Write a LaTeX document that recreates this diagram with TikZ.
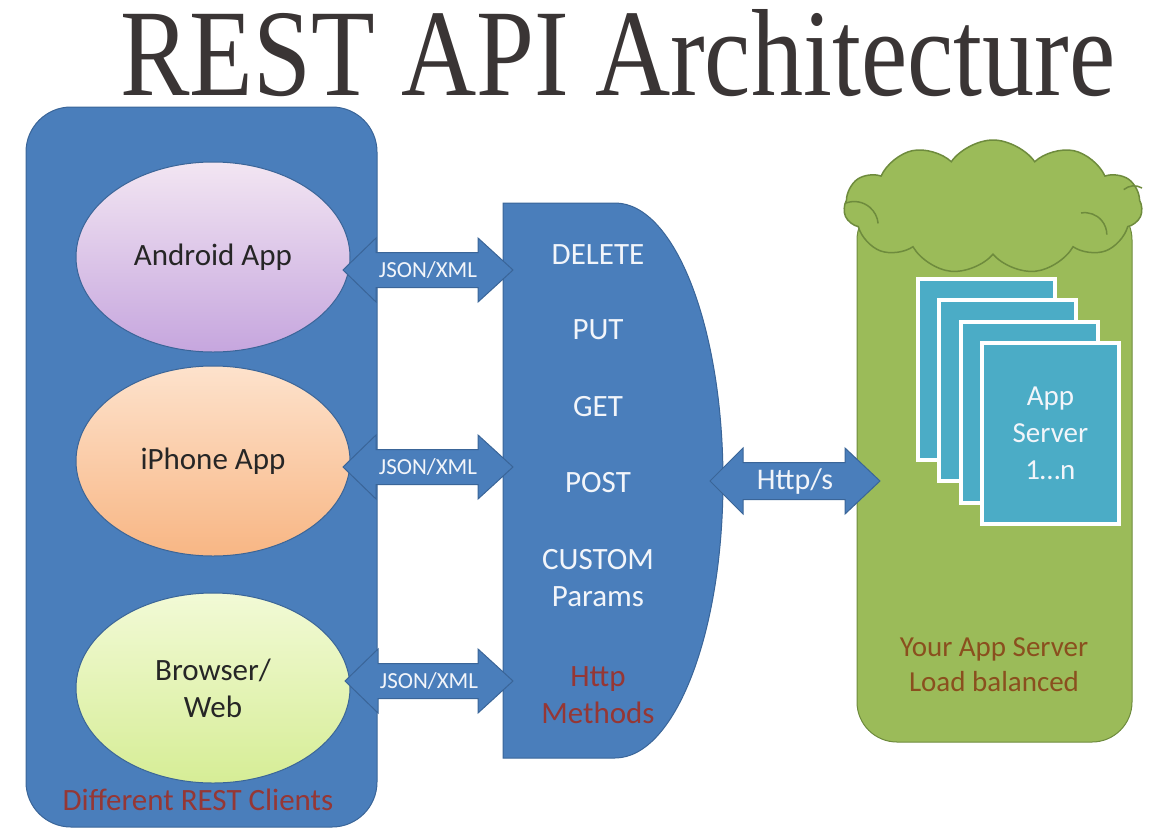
\documentclass[tikz,border=0pt]{standalone}
\usepackage{fontspec}
\setmainfont{Carlito}
\newfontfamily\titlefont{Liberation Serif}
\usetikzlibrary{shapes.geometric,shapes.symbols,calc}
\definecolor{blueA}{HTML}{4A7EBB}
\definecolor{blueB}{HTML}{3A6598}
\definecolor{greenA}{HTML}{9BBB59}
\definecolor{greenB}{HTML}{6E8B3D}
\definecolor{aquaA}{HTML}{4BACC6}
\definecolor{redT}{HTML}{953735}
\definecolor{brownT}{HTML}{8A4F1E}
\definecolor{titleC}{HTML}{3A3535}
\definecolor{txtW}{HTML}{F2F5FA}
\newcommand{\twoway}[5]{%
  \path let \p1=(#1), \p2=(#2) in
    [fill=blueA, draw=blueB, line width=1pt, line join=miter]
    (\x1,\y1) -- (\x1+33,\y1+#4) -- (\x1+33,\y1+#5) -- (\x2-35,\y1+#5) -- (\x2-35,\y1+#4)
    -- (\x2,\y1) -- (\x2-35,\y1-#4) -- (\x2-35,\y1-#5) -- (\x1+33,\y1-#5) -- (\x1+33,\y1-#4) -- cycle;
}
\tikzset{
  client/.style={ellipse, draw=blueB, line width=1pt, minimum width=274pt, minimum height=190pt,
     text=black!85, font=\fontsize{31}{37}\selectfont, align=center},
  mlabel/.style={text=txtW, font=\fontsize{31}{37}\selectfont, align=center},
  rlabel/.style={text=redT, font=\fontsize{31}{37}\selectfont, align=center},
  arrlabel/.style={text=txtW, font=\fontsize{23}{27}\selectfont},
  srv/.style={rectangle, fill=aquaA, draw=white, line width=4pt, minimum width=137pt, minimum height=181pt,
     text=txtW, font=\fontsize{29}{37}\selectfont, align=center},
  cloudline/.style={greenB, line width=1.5pt},
}
\begin{document}
\begin{tikzpicture}[x=1pt,y=-1pt]
\useasboundingbox (0,0) rectangle (1150,830);
% title
\node[anchor=base, text=titleC, inner sep=0pt] (title) at (618,95)
  {\scalebox{0.84}[1]{\titlefont\fontsize{124}{130}\selectfont REST API Architecture}};
% left client container
\draw[fill=blueA, draw=blueB, line width=1pt, rounded corners=45pt] (26,107) rectangle (377,827);
\node[client, top color=white!60!violet!25!white, bottom color={rgb,255:red,198;green,166;blue,222}] (android) at (213,257) {Android App};
\node[client, top color={rgb,255:red,253;green,226;blue,204}, bottom color={rgb,255:red,248;green,182;blue,132}] (iphone) at (213,461) {iPhone App};
\node[client, top color={rgb,255:red,242;green,250;blue,214}, bottom color={rgb,255:red,214;green,237;blue,150}] (browser) at (213,688) {Browser/\\Web};
\node[rlabel] (clients) at (198,800) {Different REST Clients};
% methods D-shape
\draw[fill=blueA, draw=blueB, line width=1pt] (503,203) -- (615,203)
   arc[start angle=-90, end angle=90, x radius=108, y radius=277.5] -- (503,758) -- cycle;
\node[mlabel] (delete) at (598,255) {DELETE};
\node[mlabel] (put) at (598,330) {PUT};
\node[mlabel] (get) at (598,407) {GET};
\node[mlabel] (post) at (598,483) {POST};
\node[mlabel] (custom) at (598,578) {CUSTOM\\Params};
\node[rlabel] (http) at (598,695) {Http\\Methods};
% server container
\draw[fill=greenA, draw=greenB, line width=1pt, rounded corners=40pt] (857,200) rectangle (1132,742);
\node[cloud, cloud puffs=11, cloud puff arc=110, cloud ignores aspect, fill=greenA, draw=greenB, line width=1.5pt,
      minimum width=298pt, minimum height=134pt, inner sep=0pt] (cloud) at (993,207) {};
\draw[cloudline] (846,203) arc[start angle=250, end angle=355, radius=24];
\draw[cloudline] (1081,213) arc[start angle=260, end angle=360, radius=22];
\draw[cloudline] (1142,188) arc[start angle=300, end angle=230, radius=16];
\node[srv] (s1) at (986.5,369.5) {};
\node[srv] (s2) at (1007.8,390.8) {};
\node[srv] (s3) at (1029.1,412.1) {};
\node[srv] (s4) at (1050.4,433.4) {App\\Server\\1…n};
\node[text=brownT, font=\fontsize{29}{35}\selectfont, align=center] (load) at (994,665) {Your App Server\\Load balanced};
% connectors
\coordinate (j1L) at (343,270); \coordinate (j1R) at (513,270);
\coordinate (j2L) at (343,467); \coordinate (j2R) at (513,467);
\coordinate (j3L) at (345,681); \coordinate (j3R) at (513,681);
\coordinate (hL) at (710,481); \coordinate (hR) at (880,481);
\twoway{j1L}{j1R}{}{32}{17.5}
\twoway{j2L}{j2R}{}{32}{17.5}
\twoway{j3L}{j3R}{}{32}{17.5}
\twoway{hL}{hR}{}{33}{18.5}
\node[arrlabel] (l1) at ($(j1L)!0.5!(j1R)$) {JSON/XML};
\node[arrlabel] (l2) at ($(j2L)!0.5!(j2R)$) {JSON/XML};
\node[arrlabel] (l3) at ($(j3L)!0.5!(j3R)$) {JSON/XML};
\node[text=txtW, font=\fontsize{30}{34}\selectfont] (lh) at ($(hL)!0.5!(hR)$) {Http/s};
\end{tikzpicture}
\end{document}
